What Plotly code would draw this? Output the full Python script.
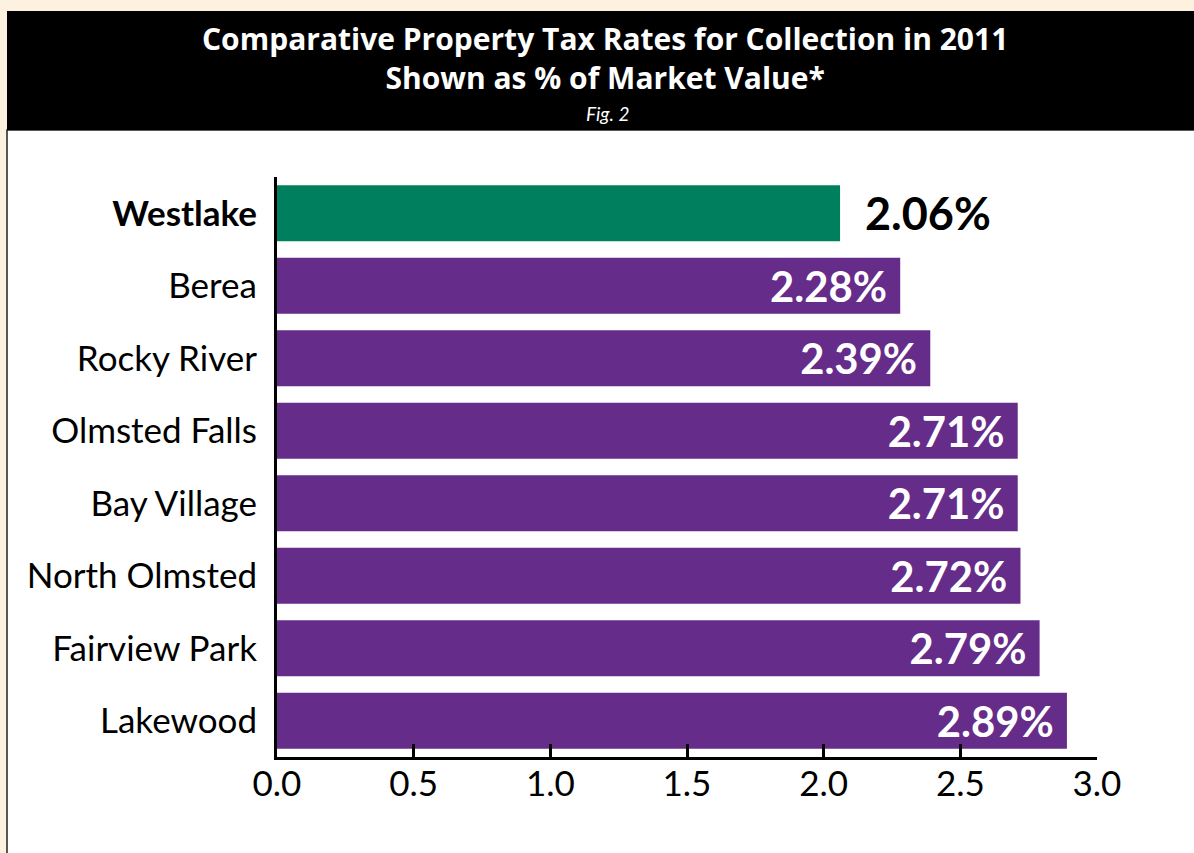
import plotly.graph_objects as go

categories = ["Westlake", "Berea", "Rocky River", "Olmsted Falls", "Bay Village",
              "North Olmsted", "Fairview Park", "Lakewood"]
values = [2.06, 2.28, 2.39, 2.71, 2.71, 2.72, 2.79, 2.89]
labels = ["2.06%", "2.28%", "2.39%", "2.71%", "2.71%", "2.72%", "2.79%", "2.89%"]
bar_colors = ["#007f5f"] + ["#652d89"] * 7
tick_vals = [0.0, 0.5, 1.0, 1.5, 2.0, 2.5, 3.0]
tick_text = ["0.0", "0.5", "1.0", "1.5", "2.0", "2.5", "3.0"]

FONT = "Lato"
TFONT = "Open Sans"
W, H = 1194, 853
L, R, T, B = 277, 97, 177, 96
PW, PH = W - L - R, H - T - B

def px_x(px):
    return (px - L) / PW

def px_y(py):
    return (H - B - py) / PH

NB = "\u00a0"
ticktext_y = ["<b>Westlake</b>"] + categories[1:]
bar_text = [NB * 2 + labels[0]] + [t + NB for t in labels[1:]]

fig = go.Figure()
fig.add_trace(go.Bar(
    y=categories, x=values, orientation="h",
    marker=dict(color=bar_colors, line=dict(width=0)),
    text=bar_text,
    textposition=["outside"] + ["inside"] * 7,
    insidetextanchor="end",
    textfont=dict(family=FONT, size=45,
                  color=["black"] + ["white"] * 7, weight="bold"),
    cliponaxis=False,
    hoverinfo="skip",
))

shapes = [
    dict(type="rect", xref="paper", yref="paper",
         x0=px_x(7), x1=px_x(1200), y0=px_y(130), y1=px_y(860),
         fillcolor="white", line=dict(color="#222", width=1.5), layer="below"),
    dict(type="rect", xref="paper", yref="paper",
         x0=px_x(7), x1=px_x(1200), y0=px_y(11), y1=px_y(130),
         fillcolor="black", line=dict(width=0), layer="below"),
]

annotations = [
    dict(text="<b>Comparative Property Tax Rates for Collection in 2011<br>"
              "Shown as % of Market Value*</b>",
         xref="paper", yref="paper", x=px_x(605), y=px_y(58),
         showarrow=False, font=dict(family=TFONT, size=30, color="white"),
         xanchor="center", yanchor="middle", align="center"),
    dict(text="<i>Fig. 2</i>",
         xref="paper", yref="paper", x=px_x(607), y=px_y(113),
         showarrow=False, font=dict(family=FONT, size=19, color="white"),
         xanchor="center", yanchor="middle"),
]

fig.update_layout(
    width=W, height=H,
    margin=dict(l=L, r=R, t=T, b=B),
    paper_bgcolor="#fdf1df",
    plot_bgcolor="white",
    showlegend=False,
    bargap=0.225,
    shapes=shapes,
    annotations=annotations,
    font=dict(family=FONT, color="black"),
    xaxis=dict(range=[0, 3.0], tickvals=tick_vals, ticktext=tick_text,
               ticks="inside", ticklen=13, tickwidth=3, tickcolor="black",
               showline=True, linecolor="black", linewidth=3,
               showgrid=False, zeroline=False,
               ticklabelstandoff=-6,
               tickfont=dict(family=FONT, size=35, color="black"),
               fixedrange=True),
    yaxis=dict(categoryorder="array", categoryarray=categories,
               tickvals=categories, ticktext=ticktext_y,
               autorange="reversed",
               showline=True, linecolor="black", linewidth=3,
               showgrid=False, zeroline=False, ticks="",
               ticklabelstandoff=10,
               tickfont=dict(family=FONT, size=35, color="black"),
               fixedrange=True),
)

fig.write_html("out.html",
               config={"displayModeBar": False, "staticPlot": True},
               post_script="document.body.style.margin='0';document.body.style.overflow='hidden';")
